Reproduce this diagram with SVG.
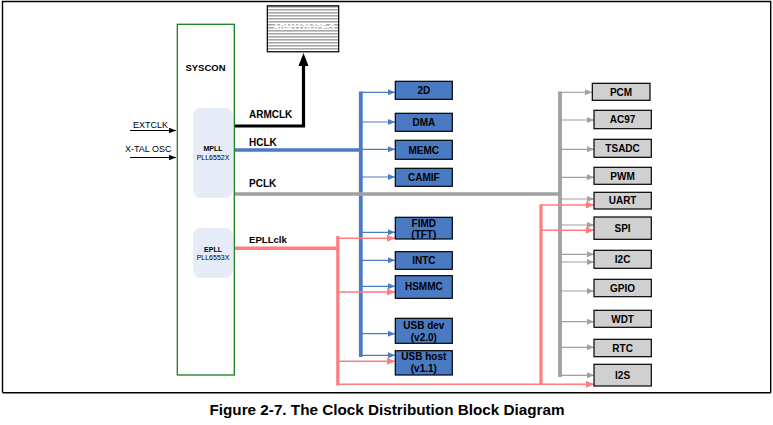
<svg xmlns="http://www.w3.org/2000/svg" width="773" height="425" viewBox="0 0 773 425">
<style>
text{font-family:"Liberation Sans",Arial,sans-serif;fill:#000}
.b{font-weight:bold}
.lbl{font-size:10px;font-weight:bold;text-anchor:middle}
.bb{fill:#4a7bc2;stroke:#000;stroke-width:1.2}
.gb{fill:#d0d0d0;stroke:#000;stroke-width:1.2}
.pll{fill:#e6ecf7;stroke:none}
.bl{stroke:#4a7bc2;stroke-width:1.2;fill:none}
.pk{stroke:#ff7c80;stroke-width:1.4;fill:none}
.gr{stroke:#a0a0a0;stroke-width:1.2;fill:none}
.dash{stroke:#000;stroke-width:1;stroke-dasharray:3,2;fill:none}
</style>
<defs>
<marker id="ab" markerUnits="userSpaceOnUse" markerWidth="8" markerHeight="8" refX="7" refY="4" orient="auto"><path d="M0,1 L7,4 L0,7 z" fill="#4a7bc2"/></marker>
<marker id="ap" markerUnits="userSpaceOnUse" markerWidth="9" markerHeight="9" refX="8" refY="4.5" orient="auto"><path d="M0,1 L8,4.5 L0,8 z" fill="#ff7c80"/></marker>
<marker id="ag" markerUnits="userSpaceOnUse" markerWidth="8" markerHeight="8" refX="7" refY="4" orient="auto"><path d="M0,1 L7,4 L0,7 z" fill="#a0a0a0"/></marker>
<marker id="ak" markerUnits="userSpaceOnUse" markerWidth="8" markerHeight="8" refX="7" refY="4" orient="auto"><path d="M0,1.2 L7,4 L0,6.8 z" fill="#000"/></marker>
<pattern id="stripes" patternUnits="userSpaceOnUse" width="4" height="3"><rect width="4" height="3" fill="#fff"/><rect width="4" height="1.6" fill="#a8a8a8"/></pattern>
</defs>
<rect width="773" height="425" fill="#fff"/>
<!-- frame -->
<path d="M2.5,392.5 L2.5,1.5 L770.7,1.5 L770.7,392.7 M2.5,392.7 L770.7,392.7" stroke="#000" stroke-width="1.4" fill="none"/>
<text x="387" y="415" class="b" font-size="14" text-anchor="middle" textLength="355" lengthAdjust="spacingAndGlyphs">Figure 2-7. The Clock Distribution Block Diagram</text>

<g id="connectors">
<!-- inputs -->
<line x1="130" y1="130.5" x2="176" y2="130.5" stroke="#000" stroke-width="1" marker-end="url(#ak)"/>
<line x1="130" y1="157.5" x2="176" y2="157.5" stroke="#000" stroke-width="1" marker-end="url(#ak)"/>
<path class="dash" d="M177,130.5 H193 M177,157.5 H193"/>
<path class="dash" d="M187.3,130.5 V242.7 H193"/>
<path class="dash" d="M182.3,157.5 V261.7 H193"/>
<circle cx="187.3" cy="130.5" r="1.6" fill="#000"/>
<circle cx="182.3" cy="157.5" r="1.6" fill="#000"/>
<!-- ARMCLK -->
<path d="M234,126 H303.5 V64" stroke="#000" stroke-width="3.2" fill="none"/>
<path d="M298.5,66 L308.5,66 L303.5,53 z" fill="#000"/>
<!-- HCLK -->
<line x1="233" y1="150" x2="361" y2="150" stroke="#4a7bc2" stroke-width="3.5"/>
<line x1="360.8" y1="91.5" x2="360.8" y2="357" stroke="#4a7bc2" stroke-width="3.8"/>
<line class="bl" x1="362" y1="92.3" x2="395" y2="92.3" marker-end="url(#ab)"/>
<line class="bl" x1="362" y1="122" x2="395" y2="122" marker-end="url(#ab)"/>
<line class="bl" x1="362" y1="149.3" x2="395" y2="149.3" marker-end="url(#ab)"/>
<line class="bl" x1="362" y1="177" x2="395" y2="177" marker-end="url(#ab)"/>
<line class="bl" x1="362" y1="232.3" x2="395" y2="232.3" marker-end="url(#ab)"/>
<line class="bl" x1="362" y1="260.3" x2="395" y2="260.3" marker-end="url(#ab)"/>
<line class="bl" x1="362" y1="286.3" x2="395" y2="286.3" marker-end="url(#ab)"/>
<line class="bl" x1="362" y1="333.7" x2="395" y2="333.7" marker-end="url(#ab)"/>
<line class="bl" x1="362" y1="355.3" x2="395" y2="355.3" marker-end="url(#ab)"/>
<!-- PCLK -->
<line x1="233" y1="194" x2="560" y2="194" stroke="#a0a0a0" stroke-width="3.5"/>
<line x1="560" y1="91.5" x2="560" y2="377" stroke="#a0a0a0" stroke-width="3.8"/>
<line class="gr" x1="561" y1="92.3" x2="592" y2="92.3" marker-end="url(#ag)"/>
<line class="gr" x1="561" y1="120" x2="594" y2="120" marker-end="url(#ag)"/>
<line class="gr" x1="561" y1="149.3" x2="594" y2="149.3" marker-end="url(#ag)"/>
<line class="gr" x1="561" y1="177.3" x2="594" y2="177.3" marker-end="url(#ag)"/>
<line class="gr" x1="561" y1="199" x2="594" y2="199" marker-end="url(#ag)"/>
<line class="gr" x1="561" y1="225" x2="594" y2="225" marker-end="url(#ag)"/>
<line class="gr" x1="561" y1="254.3" x2="594" y2="254.3" marker-end="url(#ag)"/>
<line class="gr" x1="561" y1="262" x2="594" y2="262" marker-end="url(#ag)"/>
<line class="gr" x1="561" y1="291" x2="594" y2="291" marker-end="url(#ag)"/>
<line class="gr" x1="561" y1="321.7" x2="594" y2="321.7" marker-end="url(#ag)"/>
<line class="gr" x1="561" y1="347.3" x2="594" y2="347.3" marker-end="url(#ag)"/>
<line class="gr" x1="561" y1="375.3" x2="594" y2="375.3" marker-end="url(#ag)"/>
<!-- EPLLclk -->
<line x1="233" y1="248.3" x2="338" y2="248.3" stroke="#ff7c80" stroke-width="3.5"/>
<line x1="337.8" y1="236" x2="337.8" y2="385.5" stroke="#ff7c80" stroke-width="3.2"/>
<line class="pk" x1="339" y1="238.3" x2="395" y2="238.3" marker-end="url(#ap)"/>
<line class="pk" x1="339" y1="292" x2="395" y2="292" marker-end="url(#ap)"/>
<line class="pk" x1="339" y1="361.3" x2="395" y2="361.3" marker-end="url(#ap)"/>
<line class="pk" x1="339" y1="384.3" x2="594" y2="384.3" marker-end="url(#ap)"/>
<line x1="541" y1="204.3" x2="541" y2="385" stroke="#ff7c80" stroke-width="3.2"/>
<line class="pk" x1="542" y1="205" x2="594" y2="205" marker-end="url(#ap)"/>
<line class="pk" x1="542" y1="230.3" x2="594" y2="230.3" marker-end="url(#ap)"/>
</g>

<g id="syscon">
<rect x="177.3" y="24.3" width="57" height="350.7" fill="#fff" stroke="#1a7f1a" stroke-width="1.3"/>
<text x="205.5" y="70.5" class="b" font-size="9.5" text-anchor="middle">SYSCON</text>
</g>
<g id="mpll">
<rect class="pll" x="193" y="108" width="40" height="90" rx="8"/>
<text x="213" y="151" class="b" font-size="7" text-anchor="middle">MPLL</text>
<text x="213" y="159.5" font-size="7" text-anchor="middle">PLL6552X</text>
</g>
<g id="epll">
<rect class="pll" x="193" y="228" width="40" height="50" rx="8"/>
<text x="213" y="251.5" class="b" font-size="7" text-anchor="middle">EPLL</text>
<text x="213" y="260" font-size="7" text-anchor="middle">PLL6553X</text>
</g>
<g id="labels">
<text x="133" y="128" font-size="9">EXTCLK</text>
<text x="125" y="151.5" font-size="9">X-TAL OSC</text>
<text x="249" y="118.3" class="b" font-size="10">ARMCLK</text>
<text x="249" y="145.5" class="b" font-size="10">HCLK</text>
<text x="249" y="187.3" class="b" font-size="10">PCLK</text>
<text x="249" y="243.3" class="b" font-size="9.6">EPLLclk</text>
</g>
<g id="arm">
<rect x="267.3" y="5.8" width="71.4" height="46" fill="url(#stripes)" stroke="#000" stroke-width="1.2"/>
<text x="304" y="30" class="b" font-size="8.5" text-anchor="middle" style="fill:#fff">ARM1176JZF-S</text>
</g>

<g id="n2d"><rect class="bb" x="395.3" y="81.3" width="57" height="18"/><text class="lbl" x="423.8" y="94">2D</text></g>
<g id="ndma"><rect class="bb" x="395.3" y="113.3" width="57" height="18"/><text class="lbl" x="423.8" y="126">DMA</text></g>
<g id="nmemc"><rect class="bb" x="395.3" y="140.3" width="57" height="19"/><text class="lbl" x="423.8" y="153.5">MEMC</text></g>
<g id="ncamif"><rect class="bb" x="395.3" y="168.3" width="57" height="18"/><text class="lbl" x="423.8" y="181">CAMIF</text></g>
<g id="nfimd"><rect class="bb" x="395.3" y="217.3" width="57" height="21.7"/><text class="lbl" x="423.8" y="226.5">FIMD</text><text class="lbl" x="423.8" y="238">(TFT)</text></g>
<g id="nintc"><rect class="bb" x="395.3" y="251.7" width="57" height="17.6"/><text class="lbl" x="423.8" y="264">INTC</text></g>
<g id="nhsmmc"><rect class="bb" x="395.3" y="275.7" width="57" height="22.6"/><text class="lbl" x="423.8" y="290">HSMMC</text></g>
<g id="nusbdev"><rect class="bb" x="395.3" y="318.3" width="57" height="25"/><text class="lbl" x="423.8" y="328.5">USB dev</text><text class="lbl" x="423.8" y="340.5">(v2.0)</text></g>
<g id="nusbhost"><rect class="bb" x="395.3" y="350.7" width="57" height="24.3"/><text class="lbl" x="423.8" y="359.8">USB host</text><text class="lbl" x="423.8" y="372">(v1.1)</text></g>

<g id="npcm"><rect class="gb" x="592.3" y="83.3" width="57.7" height="17"/><text class="lbl" x="621" y="95.5">PCM</text></g>
<g id="nac97"><rect class="gb" x="594" y="110.3" width="57.3" height="18.4"/><text class="lbl" x="622.6" y="123">AC97</text></g>
<g id="ntsadc"><rect class="gb" x="594" y="139.3" width="57.3" height="18"/><text class="lbl" x="622.6" y="152">TSADC</text></g>
<g id="npwm"><rect class="gb" x="594" y="167.3" width="57.3" height="17"/><text class="lbl" x="622.6" y="179.5">PWM</text></g>
<g id="nuart"><rect class="gb" x="594" y="192.3" width="57.3" height="16.7"/><text class="lbl" x="622.6" y="204">UART</text></g>
<g id="nspi"><rect class="gb" x="594" y="217" width="57.3" height="22.3"/><text class="lbl" x="622.6" y="231.5">SPI</text></g>
<g id="ni2c"><rect class="gb" x="594" y="250.3" width="57.3" height="18"/><text class="lbl" x="622.6" y="263">I2C</text></g>
<g id="ngpio"><rect class="gb" x="594" y="279.3" width="57.3" height="17.4"/><text class="lbl" x="622.6" y="291.5">GPIO</text></g>
<g id="nwdt"><rect class="gb" x="594" y="310.3" width="57.3" height="17"/><text class="lbl" x="622.6" y="322.5">WDT</text></g>
<g id="nrtc"><rect class="gb" x="594" y="339.3" width="57.3" height="17.4"/><text class="lbl" x="622.6" y="351.5">RTC</text></g>
<g id="ni2s"><rect class="gb" x="594" y="364.3" width="57.3" height="21.7"/><text class="lbl" x="622.6" y="378.5">I2S</text></g>
</svg>
